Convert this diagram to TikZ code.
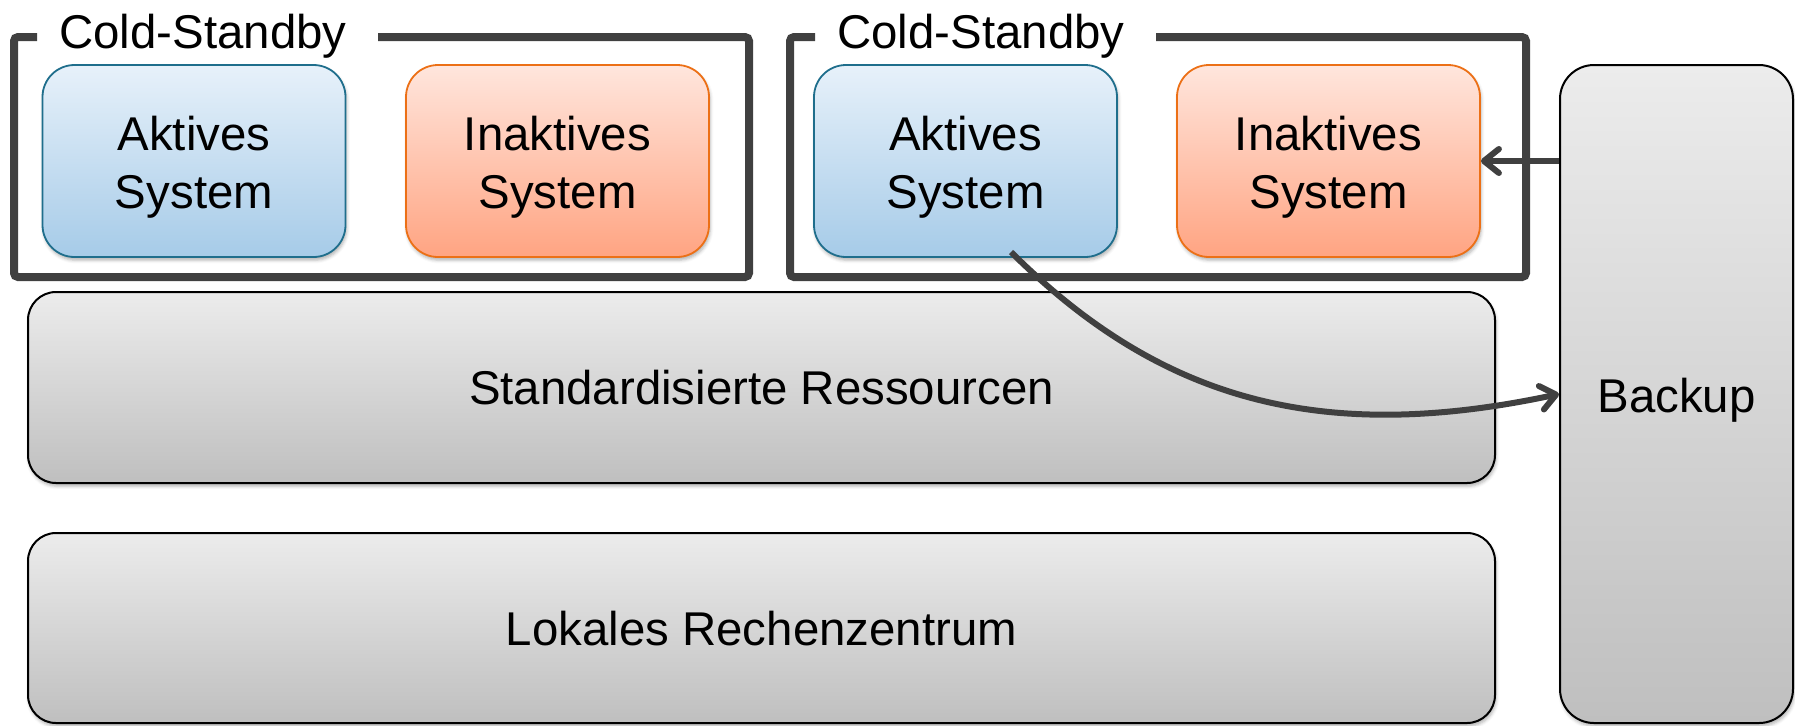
\documentclass[tikz,border=0pt]{standalone}
\usepackage{fontspec}
\setmainfont{Liberation Sans}
\usetikzlibrary{arrows.meta,shadows.blur}

\definecolor{actline}{RGB}{31,110,140}
\definecolor{acttop}{RGB}{231,241,250}
\definecolor{actbot}{RGB}{166,203,232}
\definecolor{pasline}{RGB}{236,112,22}
\definecolor{pastop}{RGB}{255,230,221}
\definecolor{pasbot}{RGB}{255,164,130}
\definecolor{greytop}{RGB}{236,236,236}
\definecolor{greybot}{RGB}{191,191,191}
\definecolor{dark}{RGB}{64,64,64}

% strut that lowers a two-line label so its letters sit centred in the box
\newcommand{\firstline}{\rule{0pt}{23.8pt}}

\begin{document}
\begin{tikzpicture}[x=0.5pt,y=-0.5pt,
  txt/.style={font=\fontsize{23.7}{29}\selectfont, align=center, text=black},
  soft/.style={blur shadow={shadow xshift=0.6pt, shadow yshift=-1.6pt,
      shadow blur radius=1.6pt, shadow opacity=30}},
  sysbox/.style={txt, soft, rounded corners=16pt, line width=0.9pt,
      minimum width=151.5pt, minimum height=96pt, inner sep=0pt},
  active/.style={sysbox, draw=actline, top color=acttop, bottom color=actbot},
  passive/.style={sysbox, draw=pasline, top color=pastop, bottom color=pasbot},
  layer/.style={txt, soft, draw=black, line width=1pt, rounded corners=14pt,
      top color=greytop, bottom color=greybot, inner sep=0pt, text depth=0pt},
  frame/.style={draw=dark, line width=4pt, rounded corners=2pt},
  title/.style={txt, anchor=base, inner xsep=11pt, inner ysep=0pt},
  link/.style={draw=dark, line width=3pt,
      -{Straight Barb[length=7.5pt,width=12pt,round]}}]

\useasboundingbox (0,0) rectangle (1795,725);

% two cold-standby groups, each framed with a gap for its title
\node[title] (t1) at (203,48) {Cold-Standby};
\node[title] (t2) at (981,48) {Cold-Standby};
\coordinate (g1) at ([xshift=4.5pt]t1.east);
\coordinate (g2) at ([xshift=4.5pt]t2.east);
\coordinate (f1nw) at (14,37);
\coordinate (f1se) at (749,277);
\coordinate (f2nw) at (790,37);
\coordinate (f2se) at (1526,277);
\draw[frame] (t1.west |- f1nw) -- (f1nw) |- (f1se) |- (g1 |- f1nw);
\draw[frame] (t2.west |- f2nw) -- (f2nw) |- (f2se) |- (g2 |- f2nw);

% systems
\node[active]  (akt1) at (194,161)    {\firstline Aktives\\System};
\node[passive] (ina1) at (557.5,161)  {\firstline Inaktives\\System};
\node[active]  (akt2) at (965.5,161)  {\firstline Aktives\\System};
\node[passive] (ina2) at (1328.5,161) {\firstline Inaktives\\System};

% infrastructure layers
\node[layer, minimum width=733.5pt, minimum height=95.5pt] (res) at (761.5,387.5)
  {Standardisierte Ressourcen};
\node[layer, minimum width=733.5pt, minimum height=95pt] (rz) at (761.5,628)
  {Lokales Rechenzentrum};
\node[layer, rounded corners=17pt, minimum width=116.5pt, minimum height=329pt,
  text height=18.8pt] (bak) at (1676.5,394) {Backup};

% data flows
\draw[link] (bak.west |- ina2.east) -- (ina2.east);
\coordinate (cstart) at (1011,252);
\draw[link] (cstart) .. controls (1160,400) and (1320,445) .. (bak.west);
\end{tikzpicture}
\end{document}
